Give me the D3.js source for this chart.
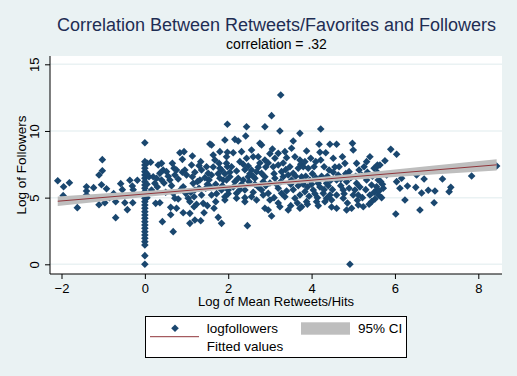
<!DOCTYPE html>
<html>
<head>
<meta charset="utf-8">
<script src="https://cdn.jsdelivr.net/npm/d3@7"></script>
<style>
  body { margin: 0; background: #eaf2f3; }
  svg { display: block; font-family: "Liberation Sans", Arial, sans-serif; }
</style>
</head>
<body>
<div id="chart"></div>
<script>
const obsLeft = [
  [-2.09,6.27],[-1.95,5.82],[-1.81,6.12],[-1.96,5.15],[-1.62,4.25],[-1.40,5.82],[-1.40,5.50],[-1.40,5.20],
  [-1.23,5.75],[-1.02,7.85],[-1.02,7.02],[-1.10,6.70],[-1.04,5.97],[-0.92,5.67],[-0.96,4.62],[-1.10,4.47],
  [-0.70,3.50],[-0.70,4.70],[-0.58,6.05],[-0.54,5.60],[-0.48,4.62],[-0.42,4.10],[-0.36,6.30],[-0.30,5.87],
  [-0.28,5.60],[-0.29,4.62],[-0.18,6.30],[-0.85,5.00],[-0.75,5.30]
];
const obsZero = [
  [0,9.12],[0,7.7],[0,7.45],[0,7.2],[0,6.95],[0,6.7],[0,6.45],[0,6.2],[0,5.95],[0,5.7],[0,5.45],[0,5.2],
  [0,4.95],[0,4.7],[0,4.45],[0,4.2],[0,3.95],[0,3.7],[0,3.45],[0,3.2],[0,2.95],[0,2.7],[0,2.45],[0,2.2],
  [0,1.95],[0,1.7],[0,1.45],[0,0.65],[0,0],[0.05,7.6],[0.05,6.8],[0.05,6.0],[0.05,5.0],[0.1,6.57]
];
const obsLow = [
  [0.14,7.65],[0.20,6.57],[0.28,6.45],[0.32,7.45],[0.40,7.57],[0.44,7.07],[0.36,6.82],[0.40,6.32],[0.24,6.07],
  [0.16,5.57],[0.26,4.57],[0.36,4.62],[0.42,3.20],[0.52,6.95],[0.60,6.32],[0.66,7.57],[0.70,7.20],[0.72,6.70],
  [0.76,7.07],[0.68,5.32],[0.72,4.95],[0.62,4.27],[0.62,3.72],[0.76,4.20],[0.68,2.45],[0.84,8.37],[0.90,7.87],
  [0.94,8.45],[0.96,7.07],[1.00,6.70],[0.92,5.82],[0.98,5.32],[1.04,4.95],[0.92,3.87],[1.08,4.70],[1.08,3.82],
  [1.08,3.07],[1.14,8.12],[1.12,7.45],[1.14,6.57],[1.16,6.07],[1.20,5.57],[1.18,5.07],[1.18,4.32],[1.20,3.32],
  [1.34,7.70],[1.36,7.07],[1.32,6.32],[1.30,5.70],[1.36,5.20],[1.40,4.57],[1.34,3.27],[1.42,3.87],[1.48,7.32],
  [1.52,6.82],[1.56,9.02],[1.60,8.95],[1.64,8.20],[1.68,7.82],[1.54,6.32],[1.57,5.82],[1.60,5.20],[1.66,4.20],
  [1.76,3.52],[1.84,3.07],[1.80,8.45],[1.78,7.57],[1.84,7.07],[1.80,6.45],[1.88,6.32],[1.84,5.57],[1.92,9.32],
  [1.98,10.50],[1.96,8.07],[1.98,7.32],[1.96,6.32],[1.92,5.07],[1.92,4.82],
  [0.30,5.8],[0.46,6.1],[0.50,5.4],[0.56,6.6],[0.64,5.9],[0.80,6.4],[0.86,5.6],[0.90,6.9],[1.10,5.4],
  [1.20,6.9],[1.26,6.2],[1.30,7.4],[1.44,6.5],[1.46,5.7],[1.50,6.0],[1.60,6.7],[1.64,7.3],[1.70,6.0],
  [1.72,5.3],[1.76,6.8],[1.80,7.2],[1.86,5.9],[1.92,6.8],[1.70,4.7],[1.50,4.4],[0.80,4.9],[1.24,4.5]
];
const obsMid = [
  [2.16,9.37],[2.24,9.25],[2.44,10.32],[2.42,9.62],[2.88,10.32],[3.04,11.15],[3.26,12.70],[3.24,10.00],
  [3.72,9.82],[3.56,9.25],[2.76,9.07],[2.80,8.95],[3.06,8.65],[3.52,8.70],[1.98,8.40],[2.12,8.37],[2.32,8.45],
  [2.56,8.57],[2.60,8.07],[2.72,8.07],[2.88,7.82],[3.12,7.95],[3.20,8.32],[3.36,8.45],[3.40,8.00],[3.60,8.07],
  [3.72,7.82],[1.96,7.57],[2.08,7.32],[2.28,7.70],[2.44,7.95],[2.48,7.37],[2.56,7.07],[2.72,7.27],[2.80,6.82],
  [3.08,7.32],[3.20,7.45],[3.28,6.95],[3.48,7.32],[3.56,6.82],[3.68,7.20],[2.04,6.57],[2.24,6.45],[2.36,6.32],
  [2.48,6.57],[2.64,6.45],[2.88,6.57],[3.12,6.45],[3.32,6.57],[3.52,6.32],[3.76,6.57],[2.00,5.57],[2.20,5.32],
  [2.40,5.57],[2.56,5.07],[2.68,4.82],[2.80,5.57],[2.96,5.32],[3.00,4.82],[3.28,5.32],[3.36,5.07],[3.60,4.95],
  [3.72,5.20],[2.88,4.20],[2.96,4.07],[3.04,3.62],[3.24,4.32],[3.44,4.07],[3.72,4.20],[2.46,2.90],[2.20,4.95],
  [2.40,4.70],
  [2.40,7.1],[2.52,6.8],[2.60,6.6],[2.68,6.95],[2.50,6.2],[2.64,6.0],[2.32,6.0],[2.16,6.2],[2.04,6.9],
  [2.12,5.8],[2.28,5.6],[2.00,5.3],[2.72,5.8],[2.84,6.2],[2.90,5.9],[3.00,6.1],[3.10,6.8],[3.16,6.0],
  [3.20,5.7],[3.26,6.2],[3.32,7.6],[3.38,7.1],[3.44,6.7],[3.50,6.0],[3.56,5.6],[3.62,6.6],[3.68,5.9],
  [3.74,7.5],[3.40,5.5],[3.10,5.0],[2.96,7.6],[3.00,8.3],[2.90,7.3],[2.76,7.6],[2.20,7.0],[2.36,7.5],
  [2.60,5.4],[2.40,5.0],[2.84,5.2],[3.20,4.6],[3.50,4.4],[3.66,4.6]
];
const obsHigh = [
  [4.22,10.15],[3.88,8.50],[4.18,9.00],[4.44,9.00],[4.60,9.00],[4.98,9.07],[5.00,8.57],[4.20,8.40],[4.34,8.37],
  [4.52,7.95],[4.74,8.07],[4.80,7.57],[5.08,7.57],[5.40,8.07],[5.32,7.70],[3.98,7.95],[4.10,7.70],[4.22,7.82],
  [3.80,7.32],[3.92,7.20],[4.06,7.32],[4.30,7.32],[4.42,7.07],[4.66,7.32],[4.90,6.95],[5.14,7.07],[5.26,7.32],
  [5.50,7.20],[5.58,7.45],[3.76,6.32],[3.96,6.32],[4.16,6.07],[4.36,6.07],[4.60,6.32],[4.84,6.20],[5.08,6.07],
  [5.32,6.32],[5.44,5.95],[5.60,6.32],[3.84,5.45],[4.04,5.57],[4.28,5.32],[4.44,5.20],[4.76,5.57],[5.04,5.57],
  [5.12,5.20],[5.40,5.20],[5.56,5.57],[3.88,4.70],[4.12,4.70],[4.36,4.95],[4.48,4.82],[4.76,4.95],[4.60,4.20],
  [4.84,4.07],[4.96,4.20],[5.12,4.45],[5.24,4.32],[5.44,4.70],[3.76,4.32],[4.92,0.00],
  [3.80,6.0],[3.86,6.6],[3.90,5.8],[3.94,5.1],[4.00,6.0],[4.02,6.8],[4.08,5.3],[4.10,6.5],[4.14,5.0],
  [4.20,5.8],[4.24,6.6],[4.30,5.6],[4.32,4.7],[4.38,6.6],[4.40,5.9],[4.46,6.3],[4.50,5.6],[4.52,6.9],
  [4.56,7.3],[4.60,5.2],[4.64,6.7],[4.70,5.9],[4.70,6.4],[4.78,5.3],[4.82,6.8],[4.86,4.6],[4.90,5.7],
  [4.94,6.5],[5.00,5.2],[5.06,6.6],[5.10,4.8],[5.16,5.8],[5.20,6.7],[5.22,5.0],[5.30,5.6],[5.34,6.9],
  [5.38,4.5],[5.46,6.6],[5.50,5.4],[5.52,4.9],[5.58,6.9],[3.84,7.7],[3.90,4.5],[4.16,4.4],[4.48,4.3]
];
const obsRight = [
  [5.90,8.62],[6.04,8.25],[5.76,7.77],[5.64,7.45],[5.56,7.30],[5.60,6.70],[5.80,6.70],[6.04,6.20],[6.16,6.45],
  [6.12,5.70],[6.30,5.87],[6.50,5.77],[6.52,6.70],[6.70,6.40],[6.64,5.35],[6.80,5.55],[6.96,5.50],[6.94,4.62],
  [7.14,6.40],[6.24,4.82],[6.02,3.77],[6.60,4.07],[5.56,5.82],[5.60,5.20],[5.72,5.70],
  [5.66,6.2],[5.70,6.0],[5.62,5.5],[5.68,5.0],
  [7.30,5.45],[7.34,5.77],[7.84,6.62],[8.44,7.37]
];

// fitted line ends and 95% CI half-widths
const fitX = [-2.09, 8.44];
const fitY = [4.73, 7.46];
const ciX = [-2.09, -1, 0, 1, 2, 3, 4, 5, 6, 7, 8.44];
const ciHalf = [0.36, 0.29, 0.22, 0.18, 0.15, 0.15, 0.17, 0.22, 0.28, 0.34, 0.42];

const xTicks = [-2, 0, 2, 4, 6, 8];
const yTicks = [0, 5, 10, 15];

const width = 517, height = 376;
const plot = { left: 50, right: 502, top: 56, bottom: 274 };
const navy = "#1a476f", maroon = "#90353b", band = "#bebebe";

const svg = d3.select("#chart").append("svg")
  .attr("width", width).attr("height", height);

svg.append("rect").attr("width", width).attr("height", height).attr("fill", "#eaf2f3");
svg.append("rect")
  .attr("x", plot.left).attr("y", plot.top)
  .attr("width", plot.right - plot.left).attr("height", plot.bottom - plot.top)
  .attr("fill", "#fff");

const x = d3.scaleLinear().domain([-2, 8]).range([61.5, 478.3]);
const y = d3.scaleLinear().domain([0, 15]).range([264.3, 64.3]);

// grid
svg.append("g").selectAll("line").data(yTicks).join("line")
  .attr("x1", plot.left).attr("x2", plot.right)
  .attr("y1", d => y(d)).attr("y2", d => y(d))
  .attr("stroke", "#eaf2f3").attr("stroke-width", 1.5);

// points
const obs = [...obsLeft, ...obsZero, ...obsLow, ...obsMid, ...obsHigh, ...obsRight];
const diamond = d3.symbol().type(d3.symbolSquare).size(29)();
svg.append("g").selectAll("path").data(obs).join("path")
  .attr("d", diamond)
  .attr("transform", d => `translate(${x(d[0])},${y(d[1])}) rotate(45)`)
  .attr("fill", navy);

// CI band + fitted line
const fit = d3.scaleLinear().domain(fitX).range(fitY);
const ci = ciX.map((v, i) => ({ x: v, lo: fit(v) - ciHalf[i], hi: fit(v) + ciHalf[i] }));
svg.append("path")
  .attr("d", d3.area().x(d => x(d.x)).y0(d => y(d.lo)).y1(d => y(d.hi))(ci))
  .attr("fill", band);
svg.append("path")
  .attr("d", d3.line().x(d => x(d[0])).y(d => y(d[1]))(fitX.map((v, i) => [v, fitY[i]])))
  .attr("stroke", maroon).attr("stroke-width", 1).attr("fill", "none");

// axes
const xAxis = svg.append("g")
  .attr("transform", `translate(0,${plot.bottom})`)
  .call(d3.axisBottom(x).tickValues(xTicks).tickSize(5).tickPadding(5).tickSizeOuter(0));
const yAxis = svg.append("g")
  .attr("transform", `translate(${plot.left},0)`)
  .call(d3.axisLeft(y).tickValues(yTicks).tickSize(5).tickSizeOuter(0));
[xAxis, yAxis].forEach(a => {
  a.select(".domain").remove();
  a.selectAll("text").attr("font-size", 13).attr("font-family", null).attr("fill", "#000");
  a.selectAll("line").attr("stroke", "#000");
});
yAxis.selectAll("text")
  .attr("transform", "rotate(-90)")
  .attr("x", 0).attr("y", -11).attr("dy", 0)
  .attr("text-anchor", "middle");

svg.append("line").attr("x1", plot.left).attr("x2", plot.right)
  .attr("y1", plot.bottom).attr("y2", plot.bottom).attr("stroke", "#000");
svg.append("line").attr("x1", plot.left).attr("x2", plot.left)
  .attr("y1", plot.top).attr("y2", plot.bottom).attr("stroke", "#000");

// titles
svg.append("text").attr("x", 276.5).attr("y", 31)
  .attr("text-anchor", "middle").attr("font-size", 18).attr("fill", "#1e2d53")
  .text("Correlation Between Retweets/Favorites and Followers");
svg.append("text").attr("x", 276.5).attr("y", 49.3)
  .attr("text-anchor", "middle").attr("font-size", 14).attr("fill", "#000")
  .text("correlation = .32");
svg.append("text").attr("x", 276).attr("y", 306)
  .attr("text-anchor", "middle").attr("font-size", 13).attr("fill", "#000")
  .text("Log of Mean Retweets/Hits");
svg.append("text").attr("transform", "translate(26,165) rotate(-90)")
  .attr("text-anchor", "middle").attr("font-size", 13.5).attr("fill", "#000")
  .text("Log of Followers");

// legend
const lg = svg.append("g");
lg.append("rect").attr("x", 145.5).attr("y", 316.5).attr("width", 261).attr("height", 41)
  .attr("fill", "#fff").attr("stroke", "#000");
lg.append("path").attr("d", diamond).attr("transform", "translate(175,328.3) rotate(45)").attr("fill", navy);
lg.append("text").attr("x", 206.7).attr("y", 332.7).attr("font-size", 13.5).text("logfollowers");
lg.append("rect").attr("x", 301).attr("y", 322.3).attr("width", 49).attr("height", 12.4).attr("fill", band);
lg.append("text").attr("x", 358).attr("y", 332.7).attr("font-size", 13.5).text("95% CI");
lg.append("line").attr("x1", 150).attr("x2", 199).attr("y1", 336.7).attr("y2", 336.7)
  .attr("stroke", maroon);
lg.append("text").attr("x", 206.7).attr("y", 350.7).attr("font-size", 13.5).text("Fitted values");
</script>
</body>
</html>
